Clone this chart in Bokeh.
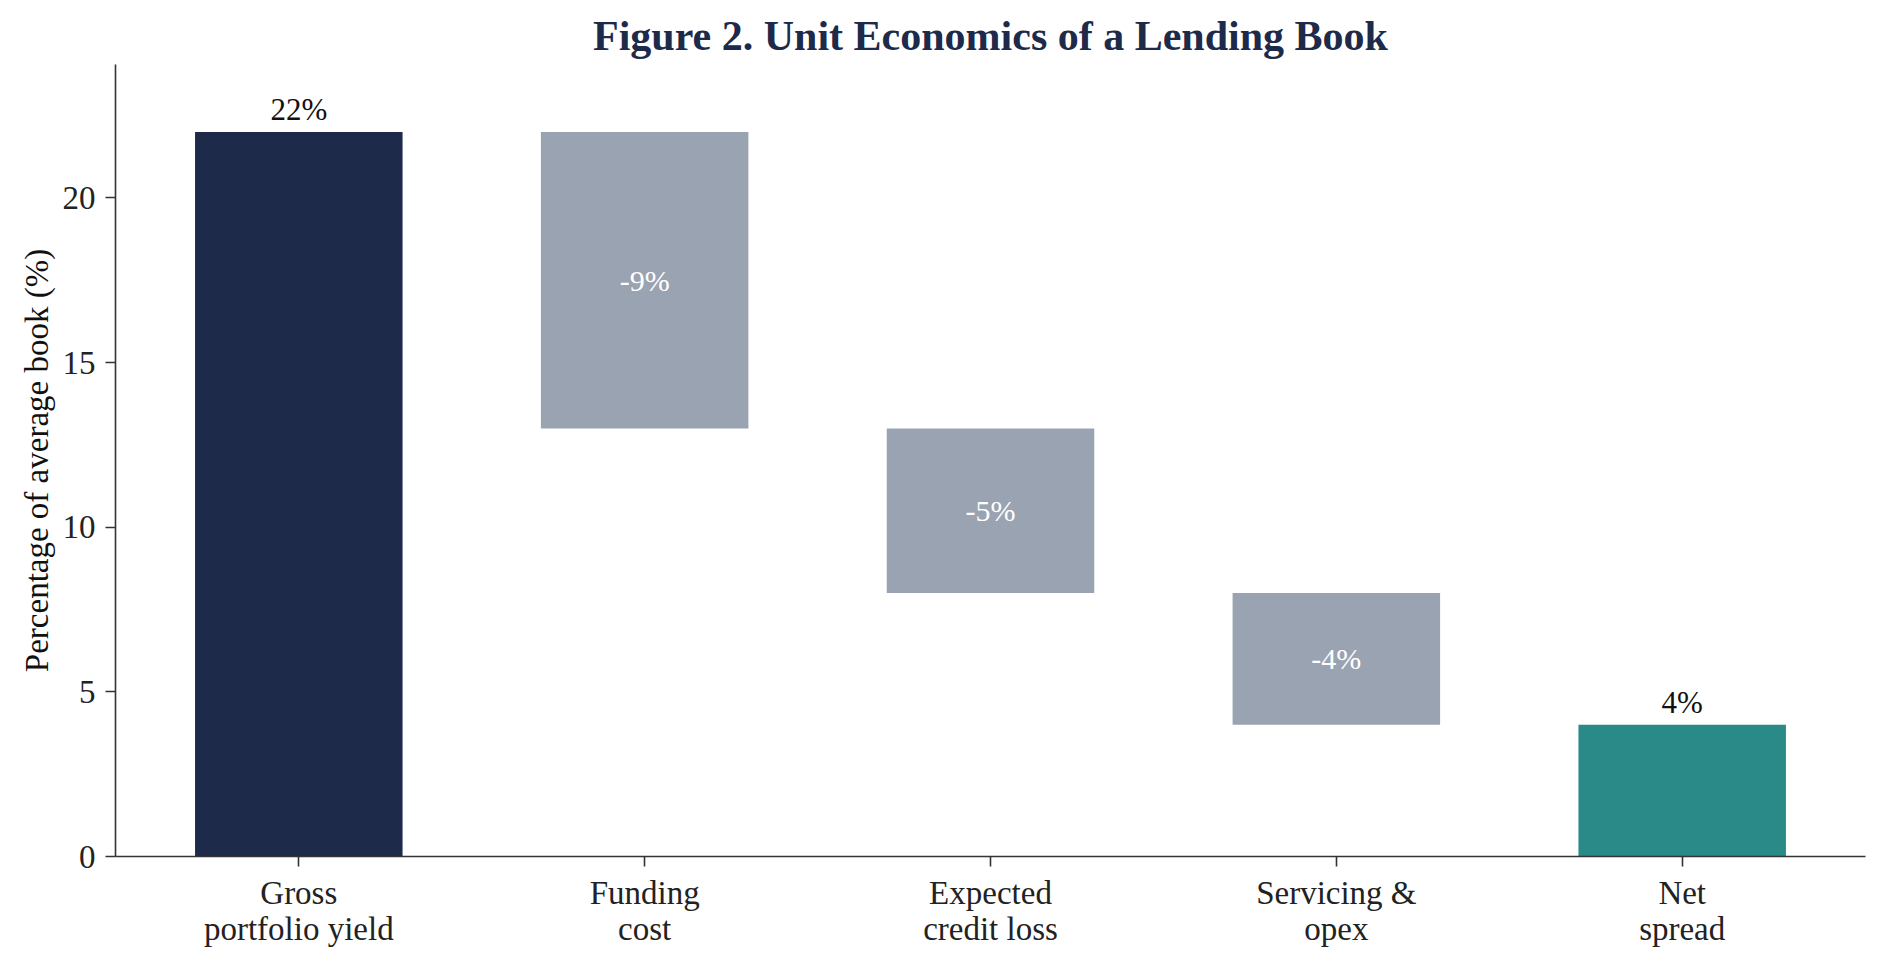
from bokeh.plotting import figure
from bokeh.models import ColumnDataSource, FixedTicker, Range1d
from bokeh.core.properties import value
from bokeh.embed import file_html
from bokeh.resources import INLINE

# waterfall steps, % of average book
labels = ["Gross\nportfolio yield", "Funding\ncost", "Expected\ncredit loss", "Servicing &\nopex", "Net\nspread"]
values = [22, -9, -5, -4, 4]
kinds = ["total", "step", "step", "step", "total"]

NAVY = "#1d2a4a"
GRAY = "#9aa3b2"
TEAL = "#2a8a88"
FONT = "Liberation Serif"

bottoms, tops, texts = [], [], []
running = 0
for v, k in zip(values, kinds):
    if k == "total":
        bottoms.append(0)
        tops.append(v)
        running = v
    else:
        bottoms.append(running + v)
        tops.append(running)
        running = running + v
    texts.append(f"{v}%")
colors = [NAVY, GRAY, GRAY, GRAY, TEAL]
xs = list(range(len(values)))

src = ColumnDataSource(dict(x=xs, bottom=bottoms, top=tops, color=colors))

p = figure(width=1868, height=950, output_backend="svg", toolbar_location=None,
           x_range=Range1d(-0.53, 4.53), y_range=Range1d(0, 24.05),
           min_border_left=115, min_border_right=3, min_border_top=64, min_border_bottom=94,
           title="Figure 2. Unit Economics of a Lending Book")
p.outline_line_color = None
p.grid.visible = False

p.title.text_font = FONT
p.title.text_font_size = "42px"
p.title.text_font_style = "bold"
p.title.text_color = NAVY
p.title.align = "center"
p.title.standoff = 12

p.vbar(x="x", bottom="bottom", top="top", width=0.6, color="color", line_color=None, source=src)

# labels above the totals, inside the steps
tot_x = [x for x, k in zip(xs, kinds) if k == "total"]
tot_y = [t for t, k in zip(tops, kinds) if k == "total"]
tot_t = [s for s, k in zip(texts, kinds) if k == "total"]
p.text(x=tot_x, y=tot_y, text=tot_t, text_align="center", text_baseline="bottom", y_offset=-5,
       text_font=value(FONT), text_font_size="31px", text_color="#111111")

st_x = [x for x, k in zip(xs, kinds) if k == "step"]
st_y = [(b + t) / 2 for b, t, k in zip(bottoms, tops, kinds) if k == "step"]
st_t = [s for s, k in zip(texts, kinds) if k == "step"]
p.text(x=st_x, y=st_y, text=st_t, text_align="center", text_baseline="middle",
       text_font=value(FONT), text_font_size="30px", text_color="white")

p.xaxis.ticker = FixedTicker(ticks=xs)
p.xaxis.major_label_overrides = {i: l for i, l in enumerate(labels)}
p.yaxis.ticker = FixedTicker(ticks=[0, 5, 10, 15, 20])
p.yaxis.axis_label = "Percentage of average book (%)"

for ax in (p.xaxis, p.yaxis):
    ax.axis_line_color = "#333333"
    ax.axis_line_width = 1.6
    ax.major_tick_line_color = "#333333"
    ax.major_tick_line_width = 1.6
    ax.major_tick_out = 10
    ax.major_tick_in = 0
    ax.minor_tick_line_color = None
    ax.major_label_text_font = FONT
    ax.major_label_text_font_size = "33px"
    ax.major_label_text_color = "#222222"
    ax.axis_label_text_font = FONT
    ax.axis_label_text_font_size = "33px"
    ax.axis_label_text_font_style = "normal"
    ax.axis_label_text_color = "#111111"
p.xaxis.major_label_text_line_height = 1.0
p.xaxis.major_label_standoff = 8
p.yaxis.major_label_standoff = 10

open("out.html", "w").write(file_html(p, INLINE))
